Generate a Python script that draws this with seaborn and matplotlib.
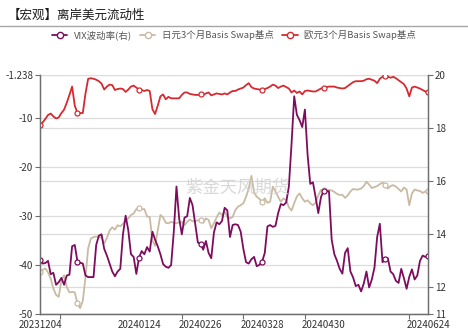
import matplotlib
matplotlib.use("Agg")
import matplotlib.pyplot as plt
import numpy as np
import pandas as pd
import seaborn as sns
from matplotlib.lines import Line2D

# Trading days on the category axis
dates = pd.bdate_range("2023-12-04", "2024-06-24").strftime("%Y%m%d").tolist()

# VIX volatility (right axis)
vix = [13.02, 12.9, 12.92, 13.0, 12.5, 12.55, 12.1, 12.2, 12.36, 12.1,
       12.45, 12.48, 13.55, 13.6, 12.97, 12.93, 12.9, 12.45, 12.39, 12.39,
       12.39, 13.6, 13.95, 14.0, 13.45, 13.2, 12.9, 12.6, 12.42, 12.6,
       12.7, 14.0, 14.7, 14.15, 13.25, 13.15, 12.51, 13.12, 13.37, 13.25,
       13.52, 13.35, 14.1, 13.8, 13.55, 13.25, 12.88, 12.78, 12.74, 12.84,
       14.1, 15.8, 14.6, 14.0, 14.63, 14.68, 15.37, 15.1, 14.4, 13.69,
       13.65, 13.42, 13.75, 13.3, 13.1, 14.07, 14.45, 14.38, 14.5, 15.0,
       14.9, 13.9, 14.35, 14.38, 14.35, 14.1, 13.45, 12.95, 12.9, 13.06,
       13.15, 12.8, 12.85, 12.97, 13.3, 14.3, 14.35, 14.28, 14.32, 14.8,
       15.14, 15.1, 15.2, 15.8, 17.4, 19.2, 18.5, 18.3, 18.04, 18.7,
       17.0, 15.9, 15.96, 15.4, 14.8, 15.4, 15.64, 15.63, 15.62, 13.8,
       13.25, 13.0, 12.7, 12.52, 13.3, 13.48, 12.6, 12.38, 12.05, 12.1,
       11.85, 12.15, 12.6, 12.0, 12.3, 12.75, 13.9, 14.4, 12.95, 13.06,
       13.1, 12.6, 12.5, 12.25, 12.17, 12.7, 12.35, 11.95, 12.4, 12.68,
       12.3, 12.45, 13.0, 13.2, 13.15, 13.18]

# JPY 3M basis swap, bp (left axis)
jpy = [-41.4, -41.0, -40.7, -41.5, -42.8, -44.8, -46.1, -46.5, -43.1, -42.1,
       -44.5, -45.6, -45.5, -45.6, -47.8, -48.8, -47.3, -42.5, -36.6, -34.6,
       -34.3, -34.2, -34.2, -34.5, -35.6, -34.5, -33.0, -32.3, -32.8, -31.9,
       -32.1, -31.6, -30.9, -30.5, -29.8, -29.5, -28.6, -28.4, -28.6, -28.6,
       -30.1, -30.2, -35.0, -36.1, -32.9, -29.8, -30.3, -31.4, -31.5, -31.2,
       -31.4, -31.5, -31.3, -31.2, -31.9, -31.2, -30.7, -31.1, -31.0, -30.9,
       -30.8, -31.4, -30.5, -30.8, -32.5, -31.5, -30.3, -29.3, -29.8, -29.1,
       -30.2, -30.5, -30.2, -28.8, -28.1, -27.8, -27.4, -26.1, -24.4, -21.8,
       -25.2, -26.1, -26.5, -27.1, -26.4, -27.3, -27.1, -24.0, -25.0, -26.1,
       -27.1, -26.4, -26.8, -28.2, -28.9, -27.4, -26.0, -25.4, -26.4, -27.1,
       -26.8, -27.4, -27.8, -27.3, -25.8, -24.7, -24.6, -24.8, -24.7, -24.8,
       -25.1, -25.5, -25.7, -25.7, -26.3, -25.8, -25.0, -24.5, -24.6, -24.6,
       -24.4, -23.9, -23.0, -23.6, -24.3, -24.1, -23.9, -23.5, -23.2, -23.6,
       -24.4, -23.9, -23.7, -24.0, -24.5, -25.0, -24.2, -24.6, -27.8, -25.4,
       -24.6, -24.8, -24.9, -25.3, -25.0, -25.0]

# EUR 3M basis swap, bp (left axis)
eur = [-11.4, -10.9, -10.2, -9.4, -9.1, -9.7, -10.1, -9.9, -9.0, -8.3,
       -6.9, -5.3, -3.6, -7.5, -9.0, -9.0, -9.0, -5.0, -2.0, -1.9,
       -2.0, -2.2, -2.5, -3.0, -4.2, -3.6, -3.2, -3.3, -4.3, -4.1,
       -4.0, -4.1, -4.7, -4.2, -3.6, -3.4, -3.8, -4.2, -4.3, -4.5,
       -4.3, -4.5, -8.2, -9.2, -7.5, -5.6, -5.2, -6.2, -5.7, -6.0,
       -6.0, -6.0, -6.0, -5.3, -4.8, -4.8, -5.1, -5.2, -5.3, -5.3,
       -5.2, -5.3, -5.0, -4.8, -5.4, -5.2, -5.0, -5.1, -5.2, -5.0,
       -5.2, -4.8, -4.5, -4.5, -4.2, -4.0, -3.8, -3.3, -2.9, -3.7,
       -4.0, -4.1, -4.2, -4.3, -4.1, -3.9, -3.6, -3.2, -3.4, -3.9,
       -3.6, -3.4, -3.7, -4.0, -4.8, -4.4, -4.9, -4.6, -5.2, -4.5,
       -4.4, -4.5, -4.6, -4.6, -4.3, -4.0, -3.8, -3.7, -3.6, -3.6,
       -3.6, -3.8, -3.9, -4.0, -3.9, -3.5, -3.1, -2.7, -2.5, -2.5,
       -2.5, -2.4, -2.1, -2.0, -2.2, -2.4, -2.9, -2.0, -1.6, -1.4,
       -1.6, -1.8, -1.6, -1.9, -2.3, -2.7, -3.1, -4.0, -5.6, -3.8,
       -3.6, -3.8, -4.0, -4.3, -4.6, -4.8]

date_labels = ["20231204", "20240124", "20240226", "20240328", "20240430", "20240624"]
left_ticks = [-1.238, -10, -20, -30, -40, -50]
right_ticks = [20, 18, 16, 14, 12, 11]
series_names = ["VIX波动率(右)", "日元3个月Basis Swap基点", "欧元3个月Basis Swap基点"]

C_VIX = "#7d0c5e"
C_JPY = "#c9baa4"
C_EUR = "#d62a30"
GRID = "#dcdcdc"
AXIS = "#6e6e6e"
TXT = "#333333"

df = pd.DataFrame({"pos": np.arange(len(dates)), "date": dates,
                   "vix": vix, "jpy": jpy, "eur": eur})

sns.set_theme(style="white")
plt.rcParams["font.family"] = ["Noto Sans CJK SC", "DejaVu Sans"]
plt.rcParams["axes.unicode_minus"] = False

W, H = 468, 332
fig = plt.figure(figsize=(W / 100, H / 100), dpi=100)
fig.patch.set_facecolor("white")
ax = fig.add_axes([40 / W, 18 / H, 388 / W, 239 / H])
ax2 = ax.twinx()

n = len(dates)
marks = sorted(set([0, n - 1] + list(range(14, n, 23))))
line_kw = dict(lw=1.3, marker="o", markevery=marks, markersize=3.6,
               markerfacecolor="white", markeredgewidth=0.9)

lo, hi = min(left_ticks), max(left_ticks)
rlo, rhi = min(right_ticks), max(right_ticks)
ax.set_ylim(lo, hi)
ax2.set_ylim(rlo, rhi)
ax.set_xlim(0, n - 1)

# horizontal grid for both value axes, kept beneath the series
for v in left_ticks:
    ax.axhline(v, color=GRID, lw=0.9, zorder=0)
for v in right_ticks:
    ax.axhline(lo + (v - rlo) / (rhi - rlo) * (hi - lo), color=GRID, lw=0.9, zorder=0)

sns.lineplot(data=df, x="pos", y="jpy", ax=ax, color=C_JPY, markeredgecolor=C_JPY, **line_kw)
sns.lineplot(data=df, x="pos", y="eur", ax=ax, color=C_EUR, markeredgecolor=C_EUR, **line_kw)
sns.lineplot(data=df, x="pos", y="vix", ax=ax2, color=C_VIX, markeredgecolor=C_VIX, **line_kw)

ax.set_xlabel("")
ax.set_ylabel("")
ax2.set_ylabel("")
ax2.set_xlabel("")

ax.set_yticks(left_ticks)
ax.set_yticklabels([f"{t:g}" for t in left_ticks])
ax2.set_yticks(right_ticks)
ax2.set_yticklabels([f"{t:g}" for t in right_ticks])

label_pos = [dates.index(d) for d in date_labels]
ax.set_xticks(label_pos)
ax.set_xticklabels(date_labels)
ax.set_xticks([7.5, 53, 76, 99, 138], minor=True)

for a in (ax, ax2):
    a.grid(False)
    a.spines["top"].set_visible(False)
    for s in ("left", "right", "bottom"):
        a.spines[s].set_color(AXIS)
        a.spines[s].set_linewidth(0.9)
    a.tick_params(axis="y", length=3.5, width=0.8, color=AXIS, labelsize=7,
                  labelcolor=TXT, pad=1.5, direction="out")
ax.tick_params(axis="x", which="major", length=0, labelsize=7, labelcolor=TXT, pad=4)
ax.tick_params(axis="x", which="minor", length=3.5, width=0.8, color=AXIS, bottom=True)
ax.tick_params(axis="y", left=True, right=False)
ax2.tick_params(axis="y", right=True, left=False)

# title and divider
fig.text(8 / W, 1 - 15 / H, "【宏观】离岸美元流动性", fontsize=9.0, color="#1a1a1a",
         va="center", ha="left")
fig.add_artist(Line2D([0, 1], [1 - 26 / H] * 2, color="#a6a6a6", lw=1.0))

# legend
handles = [Line2D([], [], color=c, lw=1.3, marker="o", markersize=4.5,
                  markerfacecolor="white", markeredgecolor=c, markeredgewidth=1.0)
           for c in (C_VIX, C_JPY, C_EUR)]
fig.legend(handles, series_names, loc="center", bbox_to_anchor=(0.5, 1 - 35 / H),
           ncol=3, frameon=False, fontsize=6.8, numpoints=1, handlelength=1.6,
           handletextpad=0.7, columnspacing=0.9, labelcolor="#555555")

# watermark
fig.text(237 / W, 1 - 188 / H, "紫金天风期货", fontsize=12.5, color="#cfcfcf",
         alpha=0.8, ha="center", va="center", zorder=10)

fig.savefig("out.png", dpi=100, facecolor="white")
